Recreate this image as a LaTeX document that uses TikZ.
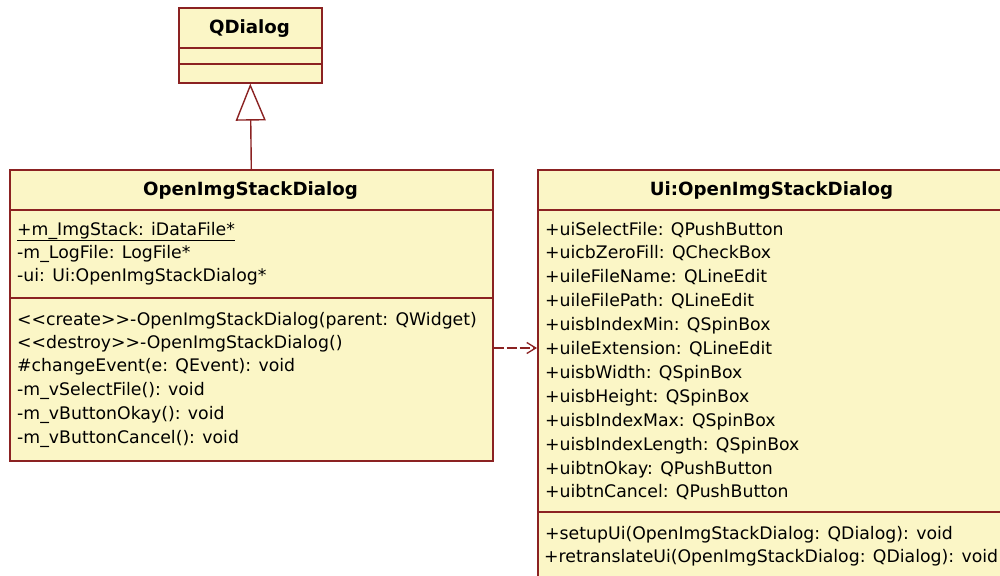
\documentclass[tikz,border=0pt]{standalone}
\usepackage{fontspec}
\setmainfont{DejaVu Sans}
\usetikzlibrary{arrows.meta}
\definecolor{umlfill}{HTML}{FBF6C6}
\definecolor{umlline}{HTML}{8B2222}
% guillemet-free stereotype brackets
\newcommand{\stereo}[1]{<\kern0pt<#1>\kern0pt>}
\begin{document}
\begin{tikzpicture}[x=1pt,y=-1pt,
  classbox/.style={draw=umlline, fill=umlfill, line width=1.6pt, inner sep=0pt,
                   rectangle, anchor=north west},
  divider/.style={draw=umlline, line width=1.6pt},
  classtitle/.style={font=\bfseries\fontsize{18.2}{21}\selectfont, anchor=base, inner sep=0pt},
  member/.style={font=\fontsize{17.3}{20}\selectfont, anchor=base west, inner sep=0pt},
  generalization/.style={draw=umlline, line width=1.4pt,
                         -{Triangle[open, length=37pt, width=30pt, fill=white]}},
  dependency/.style={draw=umlline, line width=1.3pt, dash pattern=on 10pt off 3pt,
                     -{Straight Barb[length=9pt, width=11pt]}}]
\useasboundingbox (0,0) rectangle (1000,575);
\clip (0,0) rectangle (1000,575);
\fill[white] (0,0) rectangle (1000,575);

% QDialog
\node[classbox, minimum width=143pt, minimum height=75pt] (qd) at (178,7) {};
\draw[divider] (qd.west |- 0,48) -- (qd.east |- 0,48);
\draw[divider] (qd.west |- 0,64) -- (qd.east |- 0,64);
\node[classtitle] (qdt) at (249.5,34) {QDialog};

% OpenImgStackDialog
\node[classbox, minimum width=483pt, minimum height=291pt] (oisd) at (9,169) {};
\draw[divider] (oisd.west |- 0,210) -- (oisd.east |- 0,210);
\draw[divider] (oisd.west |- 0,298) -- (oisd.east |- 0,298);
\node[classtitle] (oisdt) at (250.5,195) {OpenImgStackDialog};
\node[member] (oa0) at (17,235) {\underline{+m\_ImgStack: iDataFile*}};
\node[member] (oa1) at (17,258) {-m\_LogFile: LogFile*};
\node[member] (oa2) at (17,281) {-ui: Ui:OpenImgStackDialog*};
\node[member] (om0) at (17,325) {\stereo{create}-OpenImgStackDialog(parent: QWidget)};
\node[member] (om1) at (17,348) {\stereo{destroy}-OpenImgStackDialog()};
\node[member] (om2) at (17,371) {\#changeEvent(e: QEvent): void};
\node[member] (om3) at (17,395) {-m\_vSelectFile(): void};
\node[member] (om4) at (17,419) {-m\_vButtonOkay(): void};
\node[member] (om5) at (17,443) {-m\_vButtonCancel(): void};

% Ui:OpenImgStackDialog
\node[classbox, minimum width=480pt, minimum height=430pt] (ui) at (537,169) {};
\draw[divider] (ui.west |- 0,210) -- (ui.east |- 0,210);
\draw[divider] (ui.west |- 0,512) -- (ui.east |- 0,512);
\node[classtitle] (uit) at (771.5,195) {Ui:OpenImgStackDialog};
\foreach \t [count=\i from 0] in {
  +uiSelectFile: QPushButton,
  +uicbZeroFill: QCheckBox,
  +uileFileName: QLineEdit,
  +uileFilePath: QLineEdit,
  +uisbIndexMin: QSpinBox,
  +uileExtension: QLineEdit,
  +uisbWidth: QSpinBox,
  +uisbHeight: QSpinBox,
  +uisbIndexMax: QSpinBox,
  +uisbIndexLength: QSpinBox,
  +uibtnOkay: QPushButton,
  +uibtnCancel: QPushButton}
  \node[member] (ua\i) at (545,{235+23.9*\i}) {\t};
\node[member] (um0) at (545,539) {+setupUi(OpenImgStackDialog: QDialog): void};
\node[member] (um1) at (544,562) {+retranslateUi(OpenImgStackDialog: QDialog): void};

% relations
\draw[generalization] (oisd.north) -- (qd.south);
\coordinate (depy) at (0,348);
\draw[dependency] (oisd.east |- depy) -- (ui.west |- depy);
\end{tikzpicture}
\end{document}
